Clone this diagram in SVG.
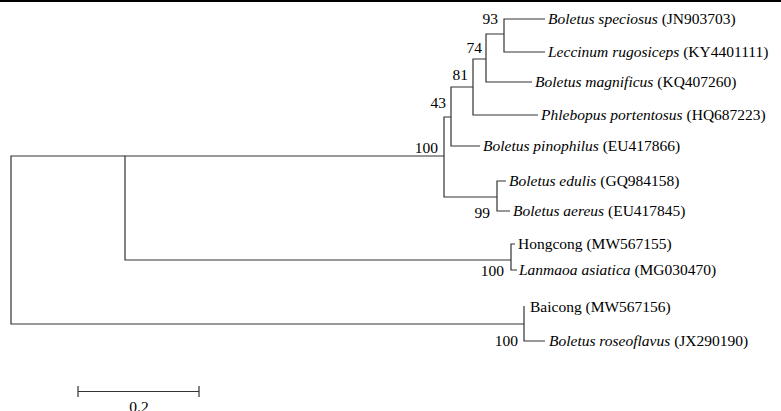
<svg xmlns="http://www.w3.org/2000/svg" width="781" height="411" viewBox="0 0 781 411">
  <style>
    .br { fill: none; stroke: #333; stroke-width: 1.2; }
    .t { font-family: "Liberation Serif", "Times New Roman", serif; font-size: 15.5px; fill: #000; }
    .sp { font-style: italic; }
    .bs { font-family: "Liberation Serif", "Times New Roman", serif; font-size: 15.5px; fill: #000; text-anchor: end; }
  </style>
  <rect width="781" height="411" fill="#fff"/>
  <line x1="0" y1="1" x2="781" y2="1" stroke="#000" stroke-width="2"/>

  <g id="connectors" class="br">
    <!-- root -->
    <path d="M125 156 H11 V324 H524"/>
    <path d="M444 156 H125 V260 H511"/>
    <!-- clade 100 -->
    <path d="M451 117 H444 V197 H497"/>
    <!-- 43 -->
    <path d="M473 87 H451 V146 H480"/>
    <!-- 81 -->
    <path d="M486 59 H473 V115 H538"/>
    <!-- 74 -->
    <path d="M504 34 H486 V82 H532"/>
    <!-- 93 -->
    <path d="M545 19 H504 V52 H545"/>
    <!-- 99 -->
    <path d="M506 181 H497 V211 H510"/>
    <!-- Hongcong clade -->
    <path d="M515 244 H511 V270 H517"/>
    <!-- Baicong clade -->
    <path d="M524 306 V341 H545"/>
  </g>

  <g id="n-speciosus"><text class="t" x="548" y="24"><tspan class="sp">Boletus speciosus</tspan> (JN903703)</text></g>
  <g id="n-leccinum"><text class="t" x="548" y="57"><tspan class="sp">Leccinum rugosiceps</tspan> (KY4401111)</text></g>
  <g id="n-magnificus"><text class="t" x="535" y="87"><tspan class="sp">Boletus magnificus</tspan> (KQ407260)</text></g>
  <g id="n-phlebopus"><text class="t" x="541" y="120"><tspan class="sp">Phlebopus portentosus</tspan> (HQ687223)</text></g>
  <g id="n-pinophilus"><text class="t" x="483" y="151"><tspan class="sp">Boletus pinophilus</tspan> (EU417866)</text></g>
  <g id="n-edulis"><text class="t" x="509" y="186"><tspan class="sp">Boletus edulis</tspan> (GQ984158)</text></g>
  <g id="n-aereus"><text class="t" x="513" y="216"><tspan class="sp">Boletus aereus</tspan> (EU417845)</text></g>
  <g id="n-hongcong"><text class="t" x="518" y="249">Hongcong (MW567155)</text></g>
  <g id="n-lanmaoa"><text class="t" x="519" y="275"><tspan class="sp">Lanmaoa asiatica</tspan> (MG030470)</text></g>
  <g id="n-baicong"><text class="t" x="530" y="312">Baicong (MW567156)</text></g>
  <g id="n-roseoflavus"><text class="t" x="549" y="346"><tspan class="sp">Boletus roseoflavus</tspan> (JX290190)</text></g>

  <g id="bootstrap">
    <text class="bs" x="498" y="24">93</text>
    <text class="bs" x="482" y="53">74</text>
    <text class="bs" x="468" y="80">81</text>
    <text class="bs" x="446" y="108">43</text>
    <text class="bs" x="438" y="153">100</text>
    <text class="bs" x="490" y="218">99</text>
    <text class="bs" x="504" y="276">100</text>
    <text class="bs" x="518" y="346">100</text>
  </g>

  <g id="scale-bar">
    <path class="br" d="M78 386 V397 M78 391.5 H199 M199 386 V397"/>
    <text class="t" x="139" y="412" text-anchor="middle">0.2</text>
  </g>
</svg>
